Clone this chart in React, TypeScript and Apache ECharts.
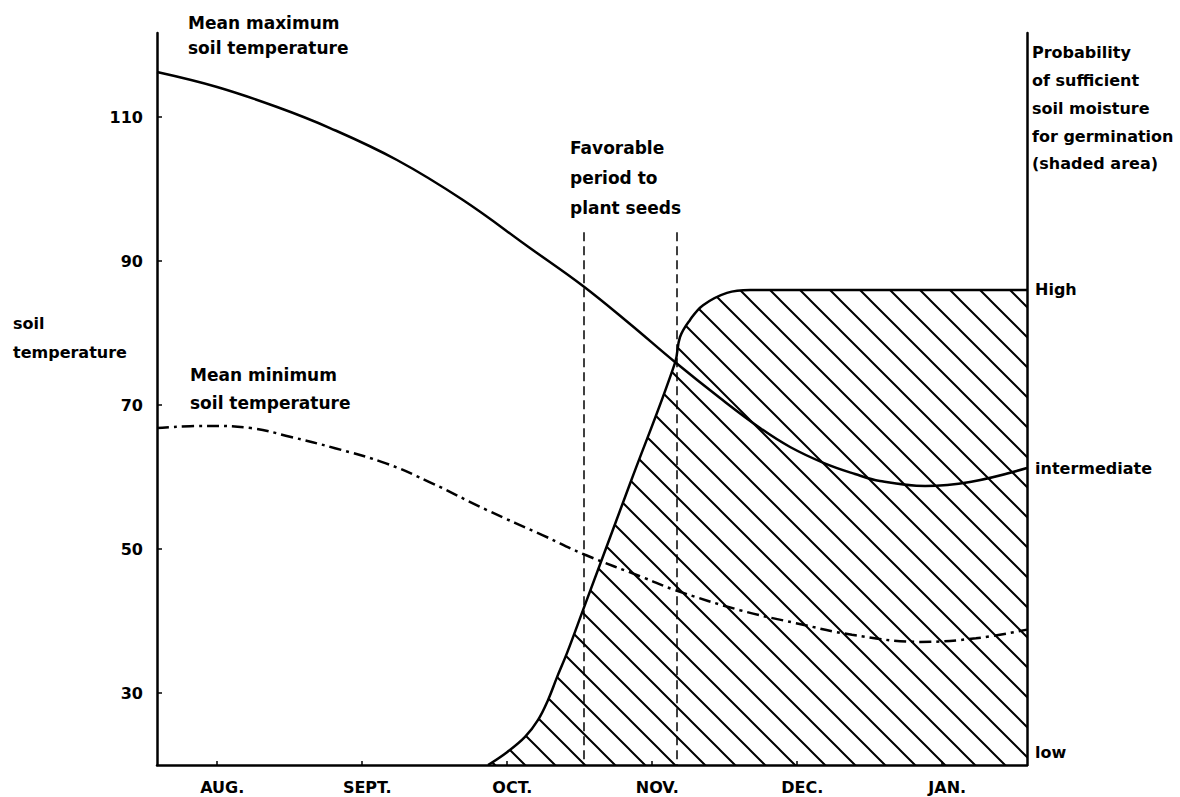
import React, { useEffect, useRef } from 'react';
import * as echarts from 'echarts';

// ---- axis categories / tick labels ----
const monthNames = ['AUG.', 'SEPT.', 'OCT.', 'NOV.', 'DEC.', 'JAN.'];
const monthTicks = [0.41, 1.41, 2.41, 3.41, 4.41, 5.41];
const monthLabelPos = [0.45, 1.45, 2.45, 3.45, 4.45, 5.45];
const tempTicks = [30, 50, 70, 90, 110];
const probNames = ['low', 'intermediate', 'High'];
const probLevels = [2.7, 62.5, 100];

// ---- series values (x in months since start of axis) ----
const maxMonth = [0, 0.414, 0.828, 1.193, 1.655, 2.11, 2.572, 2.938, 3.262, 3.572, 3.883, 4.159, 4.366, 4.6, 4.814, 4.986, 5.297, 5.607, 6.0];
const maxTemp = [116.25, 114.17, 111.39, 108.47, 104.03, 98.47, 91.81, 86.53, 81.25, 75.97, 70.97, 66.81, 64.17, 61.94, 60.42, 59.44, 58.75, 59.31, 61.25];

const minMonth = [0, 0.338, 0.648, 0.917, 1.228, 1.579, 1.89, 2.276, 2.662, 2.952, 3.359, 3.572, 4.021, 4.407, 4.793, 5.262, 5.648, 6.0];
const minTemp = [66.8, 67.1, 66.8, 65.6, 64.0, 61.9, 59.2, 55.4, 51.9, 49.2, 46.0, 44.3, 41.5, 39.7, 38.1, 37.1, 37.6, 38.8];

const probMonth = [2.283, 2.414, 2.538, 2.628, 2.697, 2.759, 2.828, 2.938, 3.262, 3.572, 3.607, 3.676, 3.766, 3.931, 4.09, 4.6, 6.0];
const probValue = [0, 2.7, 5.9, 9.5, 13.7, 18.5, 23.6, 32.6, 59.2, 84.6, 90.1, 93.7, 96.8, 99.4, 100, 100, 100];

const plantWindow = [2.945, 3.585];
const plantTop = 94;

const FONT = '"DejaVu Sans", sans-serif';

const hatchSvg =
  "<svg xmlns='http://www.w3.org/2000/svg' width='30' height='30'>" +
  "<path d='M-15,-15L45,45M-15,15L15,45M15,-15L45,15' stroke='black' stroke-width='2' fill='none'/></svg>";
const hatchUrl = 'data:image/svg+xml;charset=utf-8,' + encodeURIComponent(hatchSvg);

function txt(text: string, x: number, y: number, size: number) {
  return {
    type: 'text',
    x,
    y,
    silent: true,
    style: {
      text,
      fill: '#000',
      font: `bold ${size}px ${FONT}`,
      align: 'left',
      verticalAlign: 'middle',
    },
  };
}

export default function App() {
  const ref = useRef<HTMLDivElement>(null);

  useEffect(() => {
    if (!ref.current) return;
    const chart = echarts.init(ref.current, null, { renderer: 'svg' });

    const zip = (a: number[], b: number[]) => a.map((v, i) => [v, b[i]]);

    const option: any = {
      animation: false,
      backgroundColor: '#fff',
      grid: { left: 157, right: 153, top: 33, bottom: 32, containLabel: false },
      xAxis: {
        type: 'value',
        min: 0,
        max: 6,
        axisLine: { show: true, onZero: false, lineStyle: { color: '#000', width: 2.5 } },
        axisTick: {
          show: true,
          inside: true,
          length: 4,
          customValues: monthTicks,
          lineStyle: { color: '#000', width: 1.5 },
        },
        axisLabel: {
          show: true,
          customValues: monthLabelPos,
          margin: 14,
          color: '#000',
          fontFamily: FONT,
          fontWeight: 'bold',
          fontSize: 16,
          formatter: (v: number) => {
            const i = monthLabelPos.findIndex((p) => Math.abs(p - v) < 1e-6);
            return i >= 0 ? monthNames[i] : '';
          },
        },
        splitLine: { show: false },
      },
      yAxis: [
        {
          type: 'value',
          min: 20,
          max: 121.67,
          position: 'left',
          axisLine: { show: true, onZero: false, lineStyle: { color: '#000', width: 2.5 } },
          axisTick: {
            show: true,
            inside: true,
            length: 5,
            customValues: tempTicks,
            lineStyle: { color: '#000', width: 1.5 },
          },
          axisLabel: {
            show: true,
            customValues: tempTicks,
            margin: 14,
            color: '#000',
            fontFamily: FONT,
            fontWeight: 'bold',
            fontSize: 16,
          },
          splitLine: { show: false },
        },
        {
          type: 'value',
          min: 0,
          max: 154.1,
          position: 'right',
          axisLine: { show: true, onZero: false, lineStyle: { color: '#000', width: 2.5 } },
          axisTick: { show: false },
          axisLabel: {
            show: true,
            customValues: probLevels,
            margin: 8,
            color: '#000',
            fontFamily: FONT,
            fontWeight: 'bold',
            fontSize: 16,
            formatter: (v: number) => {
              const i = probLevels.findIndex((p) => Math.abs(p - v) < 1e-6);
              return i >= 0 ? probNames[i] : '';
            },
          },
          splitLine: { show: false },
        },
      ],
      series: [
        {
          name: 'Probability of sufficient soil moisture',
          type: 'line',
          yAxisIndex: 1,
          data: zip(probMonth, probValue),
          smooth: 0.4,
          showSymbol: false,
          lineStyle: { color: '#000', width: 2.5 },
          areaStyle: {
            opacity: 1,
            origin: 'start',
            color: {
              image: hatchUrl,
              repeat: 'repeat',
              imageWidth: 30,
              imageHeight: 30,
            },
          },
          z: 1,
        },
        {
          name: 'Mean maximum soil temperature',
          type: 'line',
          yAxisIndex: 0,
          data: zip(maxMonth, maxTemp),
          smooth: 0.4,
          showSymbol: false,
          lineStyle: { color: '#000', width: 2.5 },
          z: 3,
          markLine: {
            silent: true,
            symbol: ['none', 'none'],
            label: { show: false },
            lineStyle: { color: '#000', width: 1.5, type: [9, 5] },
            data: plantWindow.map((m) => [{ coord: [m, plantTop] }, { coord: [m, 20] }]),
          },
        },
        {
          name: 'Mean minimum soil temperature',
          type: 'line',
          yAxisIndex: 0,
          data: zip(minMonth, minTemp),
          smooth: 0.4,
          showSymbol: false,
          lineStyle: { color: '#000', width: 2.5, type: [12, 5, 3, 5] },
          z: 3,
        },
      ],
      graphic: [
        txt('Mean maximum', 188, 23, 17),
        txt('soil temperature', 188, 48, 17),
        txt('Mean minimum', 190, 375, 17),
        txt('soil temperature', 190, 403, 17),
        txt('soil', 13, 323, 16),
        txt('temperature', 13, 352, 16),
        txt('Favorable', 570, 148, 17),
        txt('period to', 570, 178, 17),
        txt('plant seeds', 570, 208, 17),
        txt('Probability', 1032, 52, 16),
        txt('of sufficient', 1032, 80, 16),
        txt('soil moisture', 1032, 108, 16),
        txt('for germination', 1032, 136, 16),
        txt('(shaded area)', 1032, 163, 16),
      ],
    };

    chart.setOption(option);
    return () => {
      chart.dispose();
    };
  }, []);

  return (
    <div
      ref={ref}
      style={{ position: 'fixed', left: 0, top: 0, width: 1180, height: 797, background: '#fff' }}
    />
  );
}
